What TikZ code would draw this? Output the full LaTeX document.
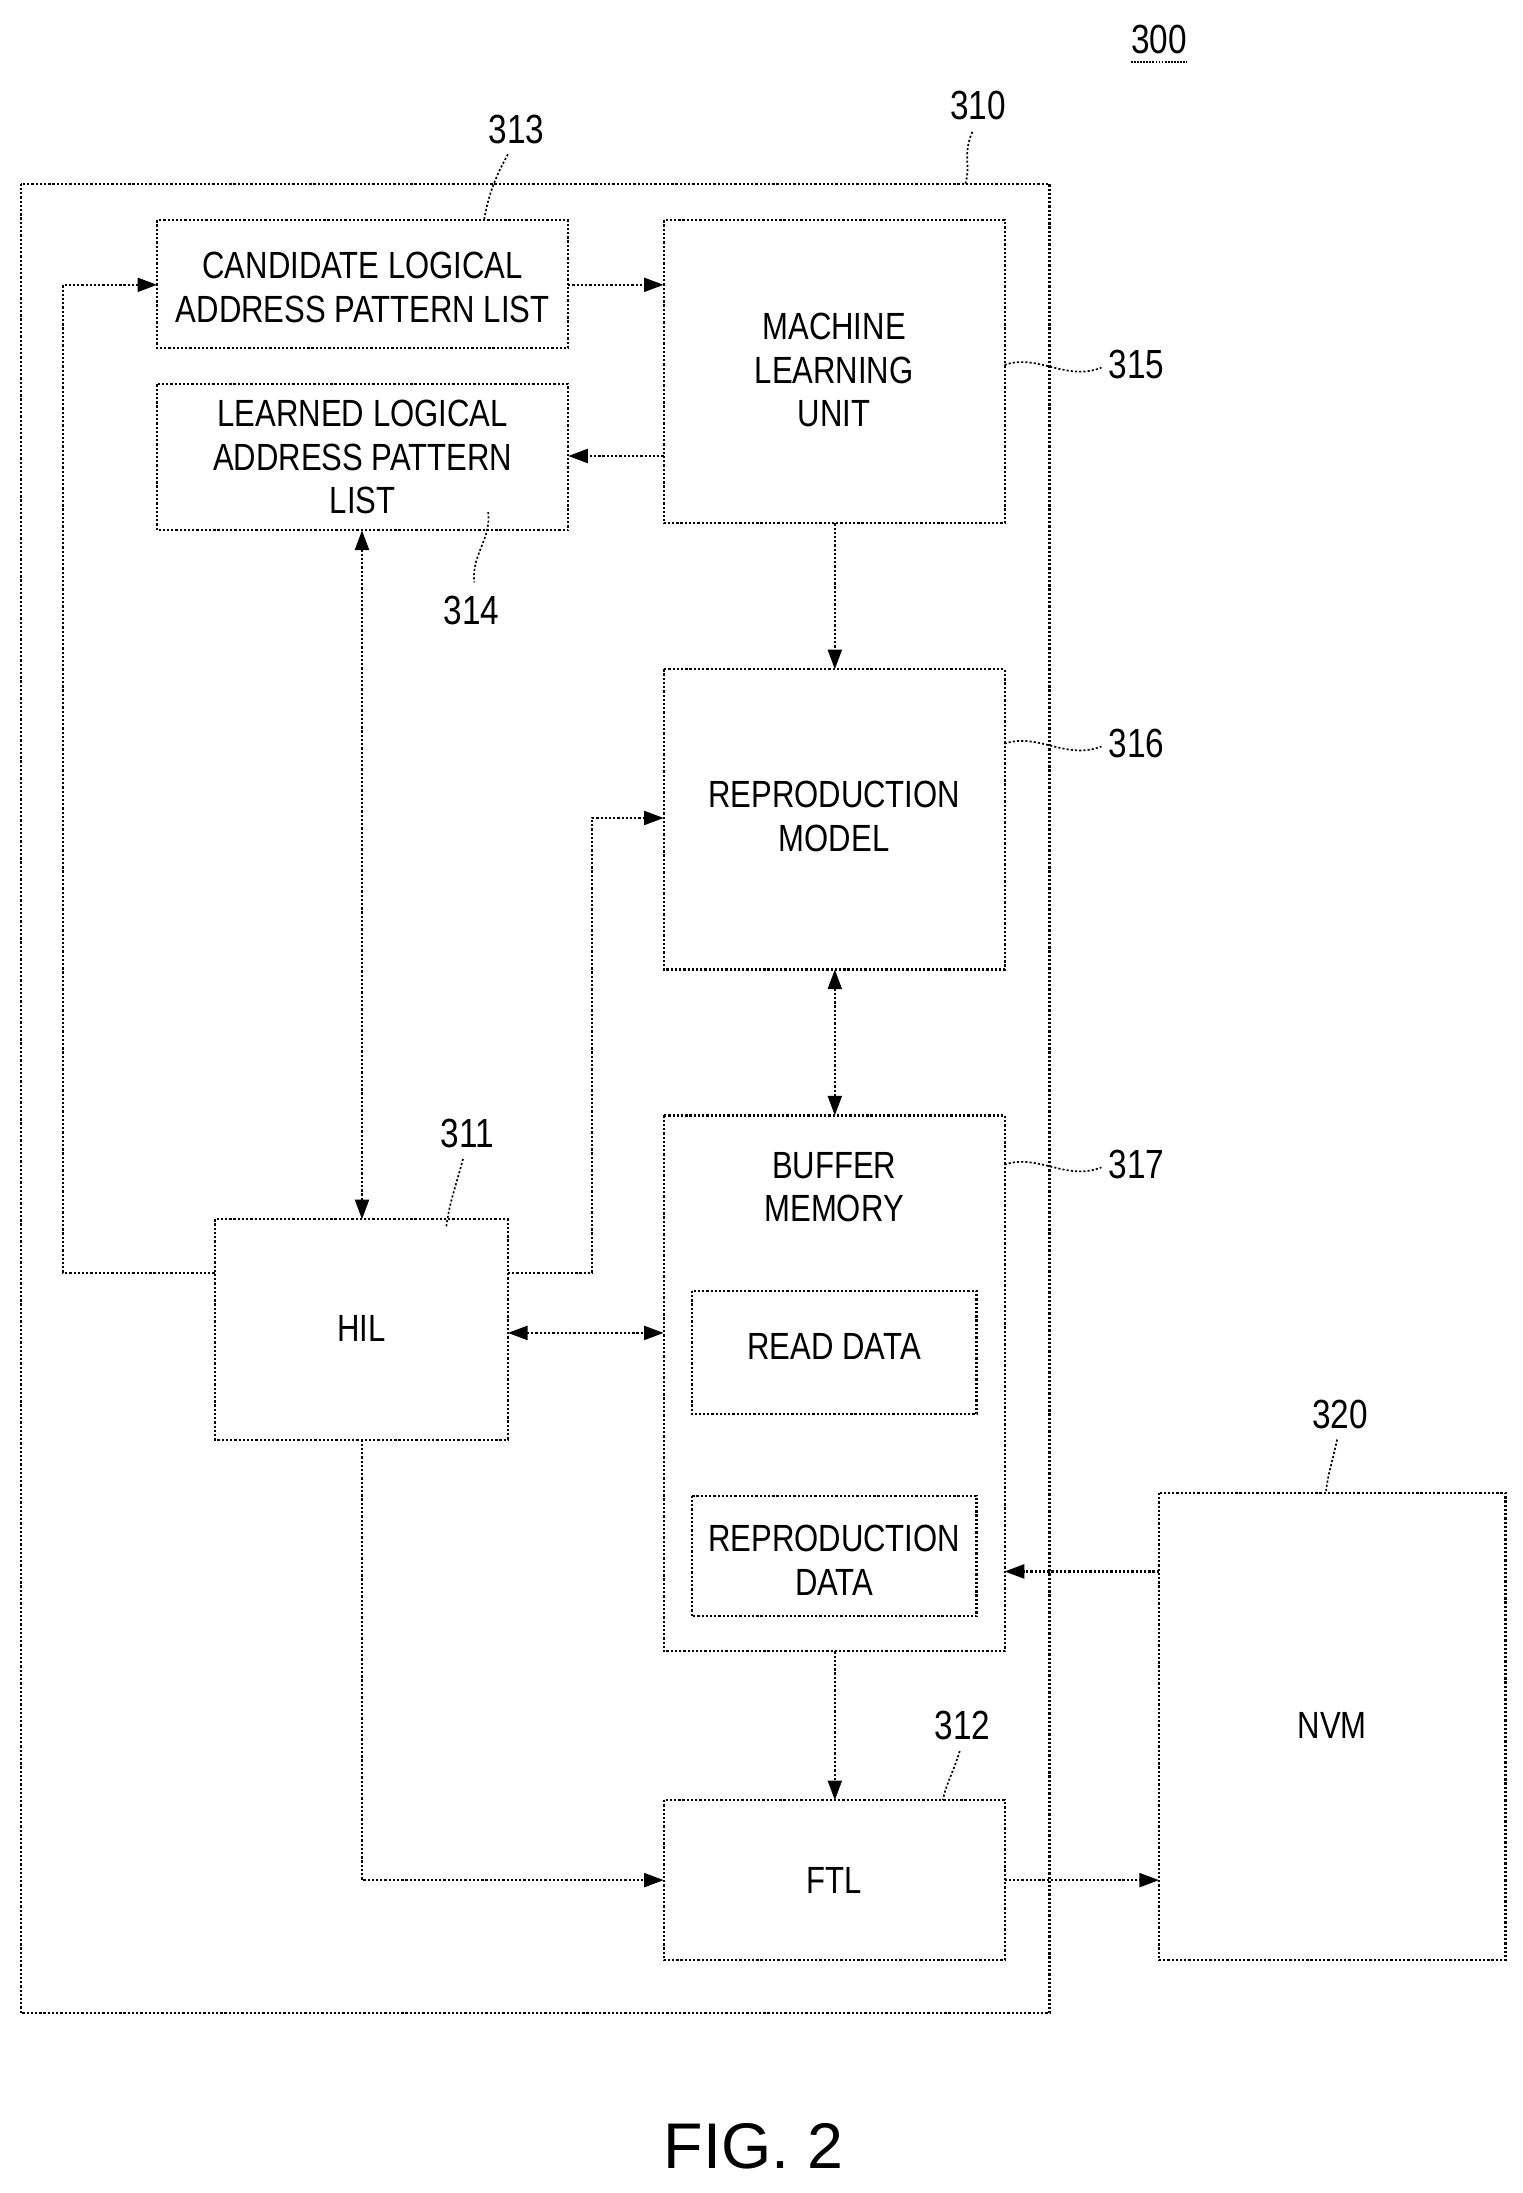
\documentclass[tikz,border=0pt]{standalone}
\usepackage{fontspec}
\setmainfont{Liberation Sans}[FakeStretch=0.82]
\newfontfamily\figfont{Liberation Sans}
\usetikzlibrary{arrows.meta}
\begin{document}
\begin{tikzpicture}[x=1pt,y=-1pt,
  dl/.style={line width=1.5pt,dash pattern=on 1.6pt off 1.4pt},
  box/.style={dl,draw,inner sep=0},
  txt/.style={font=\fontsize{27}{31}\selectfont,align=center},
  arr/.style={dl,-{Triangle[length=14pt,width=10pt]}},
  barr/.style={dl,{Triangle[length=14pt,width=10pt]}-{Triangle[length=14pt,width=10pt]}},
  lab/.style={font=\fontsize{29}{30}\selectfont},
  lead/.style={line width=1.2pt,dash pattern=on 1.5pt off 1.5pt}]
\useasboundingbox (0,0) rectangle (1085,1563);
% boxes
\draw[box] (15,131) rectangle (748,1435);
\draw[box] (112,157) rectangle (405,248);
\node[txt] (c313) at (258.5,205) {CANDIDATE LOGICAL\\ADDRESS PATTERN LIST};
\draw[box] (112,274) rectangle (405,378);
\node[txt] (c314) at (258.5,326) {LEARNED LOGICAL\\ADDRESS PATTERN\\LIST};
\draw[box] (473,157) rectangle (716,373);
\node[txt] (c315) at (594.5,264) {MACHINE\\LEARNING\\UNIT};
\draw[box] (473,477) rectangle (716,691);
\node[txt] (c316) at (594.5,582) {REPRODUCTION\\MODEL};
\draw[box] (473,795) rectangle (716,1177);
\node[txt] (c317) at (594.5,846) {BUFFER\\MEMORY};
\draw[box] (493,920) rectangle (696,1008);
\node[txt] (rd) at (594.5,960) {READ DATA};
\draw[box] (493,1066) rectangle (696,1152);
\node[txt] (rp) at (594.5,1112) {REPRODUCTION\\DATA};
\draw[box] (153,869) rectangle (362,1026);
\node[txt] (hil) at (257.5,947) {HIL};
\draw[box] (473,1283) rectangle (716,1397);
\node[txt] (ftl) at (594.5,1340) {FTL};
\draw[box] (826,1064) rectangle (1073,1397);
\node[txt] (nvm) at (949.5,1230) {NVM};
% connectors
\coordinate (h1) at (153,907);
\coordinate (a313l) at (112,203);
\draw[arr] (h1) -- (45,907) -- (45,203) -- (a313l);
\coordinate (a313r) at (405,203); \coordinate (a315l) at (473,203);
\draw[arr] (a313r) -- (a315l);
\coordinate (a315m) at (473,325); \coordinate (a314r) at (405,325);
\draw[arr] (a315m) -- (a314r);
\coordinate (a315b) at (595,373); \coordinate (a316t) at (595,477);
\draw[arr] (a315b) -- (a316t);
\coordinate (a314b) at (258,378); \coordinate (hilt) at (258,869);
\draw[barr] (a314b) -- (hilt);
\coordinate (hr1) at (362,907); \coordinate (a316l) at (473,583);
\draw[arr] (hr1) -- (422,907) -- (422,583) -- (a316l);
\coordinate (a316b) at (595,691); \coordinate (a317t) at (595,795);
\draw[barr] (a316b) -- (a317t);
\coordinate (hr2) at (362,950); \coordinate (a317l) at (473,950);
\draw[barr] (hr2) -- (a317l);
\coordinate (a317b) at (595,1177); \coordinate (aftlt) at (595,1283);
\draw[arr] (a317b) -- (aftlt);
\coordinate (hilb) at (258,1026); \coordinate (aftll) at (473,1340);
\draw[arr] (hilb) -- (258,1340) -- (aftll);
\coordinate (aftlr) at (716,1340); \coordinate (anvml) at (826,1340);
\draw[arr] (aftlr) -- (anvml);
\coordinate (anvm2) at (826,1120); \coordinate (a317r) at (716,1120);
\draw[arr] (anvm2) -- (a317r);
% labels
\node[lab] (l300) at (826,28) {300};
\draw[line width=1.2pt,dash pattern=on 1.2pt off 1pt] (806,44) -- (846,44);
\node[lab] (l310) at (697,75) {310};
\draw[lead] (693,94) .. controls (686,110) and (692,118) .. (688,131);
\node[lab] (l313) at (368,92) {313};
\draw[lead] (362,110) .. controls (352,128) and (348,140) .. (345,157);
\node[lab] (l315) at (810,260) {315};
\draw[lead] (716,260) .. controls (740,252) and (760,272) .. (785,262);
\node[lab] (l314) at (336,435) {314};
\draw[lead] (348,365) .. controls (350,385) and (336,395) .. (338,415);
\node[lab] (l316) at (810,530) {316};
\draw[lead] (716,530) .. controls (740,522) and (760,542) .. (785,532);
\node[lab] (l317) at (810,830) {317};
\draw[lead] (716,830) .. controls (740,822) and (760,842) .. (785,832);
\node[lab] (l311) at (333,808) {311};
\draw[lead] (330,826) .. controls (325,845) and (320,858) .. (318,875);
\node[lab] (l312) at (686,1230) {312};
\draw[lead] (684,1248) .. controls (680,1262) and (674,1272) .. (672,1283);
\node[lab] (l320) at (955,1008) {320};
\draw[lead] (953,1026) .. controls (950,1040) and (946,1052) .. (945,1064);
\node[font=\figfont\fontsize{46}{50}\selectfont] (fig) at (537,1530) {FIG. 2};
\end{tikzpicture}
\end{document}
